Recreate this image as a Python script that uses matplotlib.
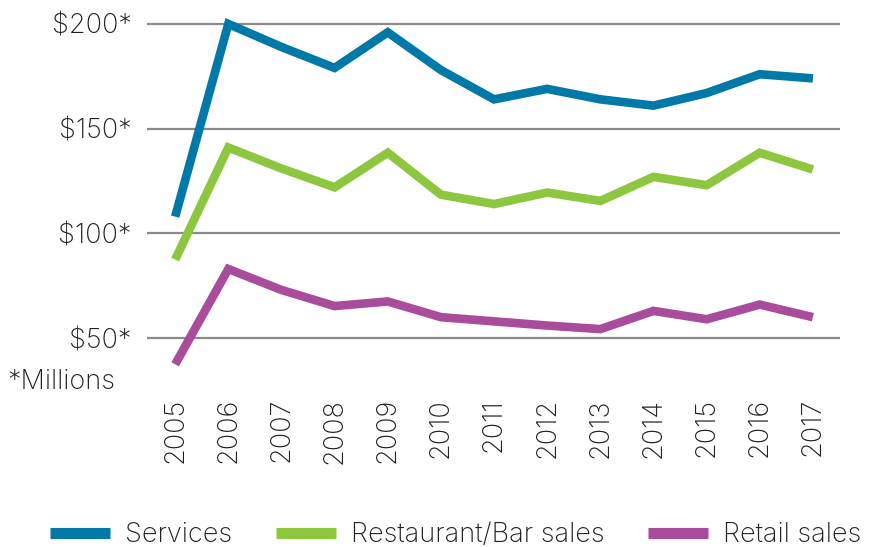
import matplotlib
matplotlib.use("Agg")
import matplotlib.pyplot as plt
from matplotlib.lines import Line2D

years = [2005, 2006, 2007, 2008, 2009, 2010, 2011, 2012, 2013, 2014, 2015, 2016, 2017]
services = [108, 200, 189, 179, 196, 178, 164, 169, 164, 161, 167, 176, 174]
restaurant = [87.5, 141, 131, 122, 138.5, 118.5, 114, 119.5, 115.5, 127, 123, 138.5, 130.5]
retail = [37.5, 83, 73, 65.3, 67.5, 60, 58, 56, 54.3, 63, 59, 66, 60]
series_names = ["Services", "Restaurant/Bar sales", "Retail sales"]
colors = ["#0079A8", "#8DC63F", "#A94C9B"]
ytick_vals = [50, 100, 150, 200]
ytick_labels = ["$50*", "$100*", "$150*", "$200*"]

plt.rcParams['font.family'] = ['Inter', 'DejaVu Sans']
txt = "#231F20"
fs = 19.5
fw = 'light'

W, H = 873, 547
fig = plt.figure(figsize=(W / 100, H / 100), dpi=100)
left, right, top, bottom = 147, 840, 3, 380
ax = fig.add_axes([left / W, 1 - bottom / H, (right - left) / W, (bottom - top) / H])

for vals, c in zip([services, restaurant, retail], colors):
    ax.plot(years, vals, color=c, lw=6.2, solid_joinstyle='miter', solid_capstyle='butt', zorder=3)

ax.set_xlim(2004.47, 2017.51)
ax.set_ylim(30, 210)
ax.set_yticks(ytick_vals)
ax.set_yticklabels(ytick_labels, fontsize=fs, color=txt, fontweight=fw)
ax.set_xticks(years)
ax.set_xticklabels([str(y) for y in years], rotation=90, fontsize=fs, color=txt, va='top', fontweight=fw)
ax.tick_params(axis='both', length=0)
ax.tick_params(axis='y', pad=11)
ax.tick_params(axis='x', pad=13)
ax.grid(axis='y', color='#8a8a8a', lw=1.6, zorder=1)
ax.grid(axis='x', visible=False)
for s in ax.spines.values():
    s.set_visible(False)

fig.text(7 / W, 1 - 382 / H, "*Millions", fontsize=fs, color=txt, va='center', ha='left', fontweight=fw)

handles = [Line2D([0], [0], color=c, lw=8, solid_capstyle='butt') for c in colors]
leg = fig.legend(handles, series_names, loc='center', bbox_to_anchor=(0.522, 1 - 535 / H),
                 ncol=3, frameon=False, handlelength=2.22, handletextpad=0.55,
                 columnspacing=1.6, borderpad=0, prop={'size': fs, 'weight': fw})
for t in leg.get_texts():
    t.set_color(txt)

fig.savefig("out.png", dpi=100)
